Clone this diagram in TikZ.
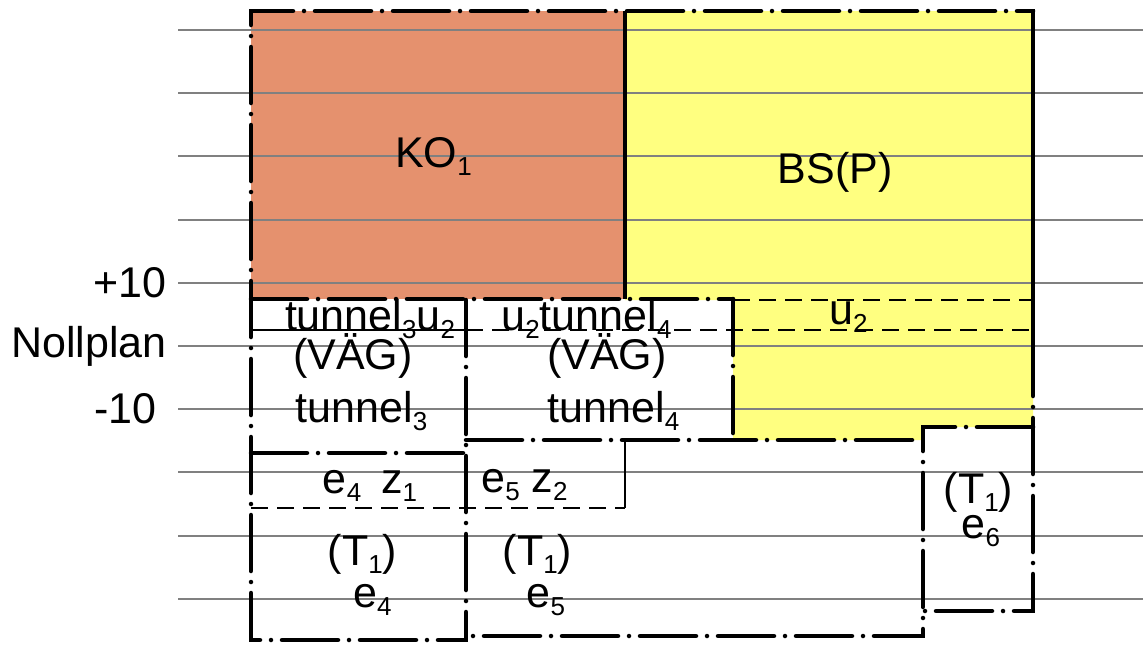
\documentclass[tikz,border=0pt]{standalone}
\usepackage{fontspec}
\setmainfont{Liberation Sans}
\definecolor{koorange}{HTML}{E5916E}
\definecolor{bsyellow}{HTML}{FFFF80}
\definecolor{gridgrey}{HTML}{808080}
\newcommand{\lsub}[1]{\raisebox{-8pt}{\fontsize{26}{26}\selectfont #1}}
\tikzset{
  lbl/.style={inner sep=0pt, anchor=base, font=\fontsize{43}{50}\selectfont},
  lblr/.style={inner sep=0pt, anchor=base east, font=\fontsize{43}{50}\selectfont},
  ddline/.style={line width=4.5pt, line cap=round, line join=miter, dash pattern=on 56pt off 11pt on 0pt off 11pt},
  solidline/.style={line width=4.5pt, line cap=butt},
  thinline/.style={line width=1.8pt},
  thindash/.style={line width=1.8pt, dash pattern=on 17pt off 9pt},
  gridline/.style={line width=2pt, color=gridgrey},
}
\begin{document}
\begin{tikzpicture}[x=1pt,y=-1pt]
\useasboundingbox (0,0) rectangle (1143,657);
% fills
\fill[koorange] (251,11) rectangle (625,299);
\fill[bsyellow] (625,11) -- (1033,11) -- (1033,427) -- (923,427) -- (923,440) -- (733,440) -- (733,300) -- (625,300) -- cycle;
% grid lines
\foreach \k in {0,...,9} {
  \draw[gridline] (178,30+63.2*\k) -- (1143,30+63.2*\k);
}
% thin lines
\draw[thinline] (251,330) -- (466,330);
\draw[thindash] (466,330) -- (1033,330);
\draw[thindash] (733,300) -- (1033,300);
\draw[thinline] (625,440) -- (625,508);
\draw[thindash] (251,508) -- (625,508);
% thick borders
\draw[ddline] (466,300) -- (466,640) -- (251,640) -- (251,11) -- (1033,11);
\draw[solidline] (625,11) -- (625,299);
\draw[solidline] (1033,9) -- (1033,340);
\draw[ddline] (1033,340) -- (1033,611) -- (923,611);
\draw[ddline] (1033,427) -- (923,427) -- (923,636) -- (466,636);
\draw[ddline] (251,299) -- (733,299);
\draw[ddline] (733,299) -- (733,440);
\draw[ddline] (466,440) -- (923,440);
\draw[ddline] (251,453) -- (466,453);
% labels
\node[lbl] (ko) at (433.5,167) {KO\lsub{1}};
\node[lbl] (bs) at (835,183) {BS(P)};
\node[lblr] (p10) at (167,297) {+10};
\node[lblr] (noll) at (167,357) {Nollplan};
\node[lblr] (m10) at (157,423) {-10};
\node[lbl] (t3u2) at (370,330) {tunnel\lsub{3}u\lsub{2}};
\node[lbl] (u2t4) at (586.5,330) {u\lsub{2}tunnel\lsub{4}};
\node[lbl] (u2) at (848.5,324) {u\lsub{2}};
\node[lbl] (vag1) at (353,369) {(VÄG)};
\node[lbl] (vag2) at (607,369) {(VÄG)};
\node[lbl] (tun3) at (361.5,422) {tunnel\lsub{3}};
\node[lbl] (tun4) at (613.5,422) {tunnel\lsub{4}};
\node[lbl] (e4z1) at (370,493) {e\lsub{4}\hspace{20pt}z\lsub{1}};
\node[lbl] (e5z2) at (524.5,492) {e\lsub{5} z\lsub{2}};
\node[lbl] (t1a) at (362.5,565) {(T\lsub{1})};
\node[lbl] (e4) at (372.5,607) {e\lsub{4}};
\node[lbl] (t1b) at (537.5,565) {(T\lsub{1})};
\node[lbl] (e5) at (546,607) {e\lsub{5}};
\node[lbl] (t1c) at (978.5,503) {(T\lsub{1})};
\node[lbl] (e6) at (981,538) {e\lsub{6}};
\end{tikzpicture}
\end{document}
